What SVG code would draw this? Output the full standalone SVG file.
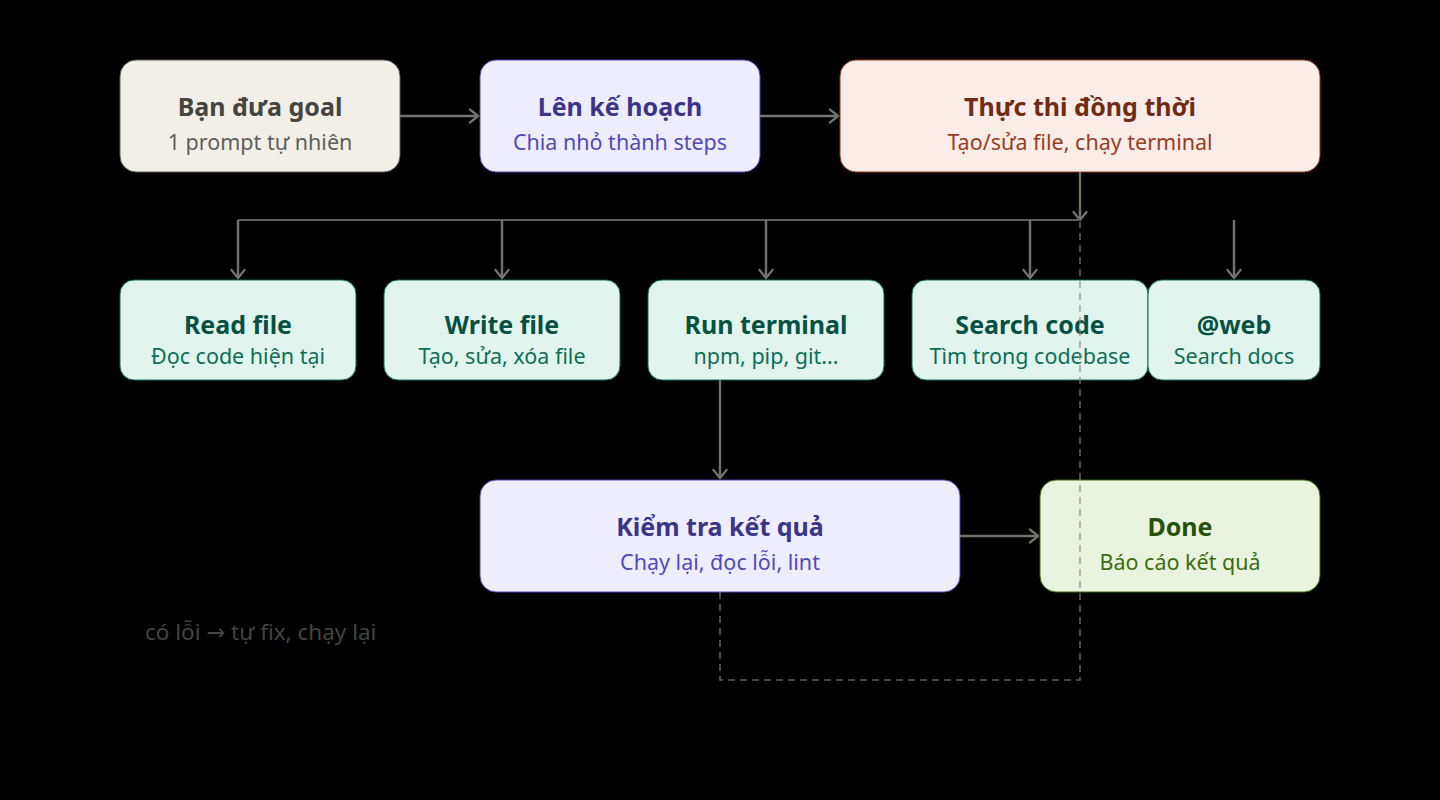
<svg xmlns="http://www.w3.org/2000/svg" width="1440" height="800" viewBox="0 0 1440 800">
<defs>
<marker id="arr" viewBox="0 0 16 16" refX="14" refY="8" markerWidth="16" markerHeight="16" markerUnits="userSpaceOnUse" orient="auto-start-reverse">
<path d="M6 1.5 L14 8 L6 14.5" fill="none" stroke="context-stroke" stroke-width="2.3" stroke-linecap="round" stroke-linejoin="round"/>
</marker>
<style>
text{font-family:"Noto Sans","Open Sans","DejaVu Sans",sans-serif;text-anchor:middle}
.t{font-weight:700;font-size:25px}
.s{font-size:21.5px}
.ln{fill:none;stroke:#73726c;stroke-width:2.4}
.bus{fill:none;stroke:#5f5e5a;stroke-width:1.8}
.dash{fill:none;stroke:#888780;stroke-opacity:0.7;stroke-width:1.6;stroke-dasharray:7 5}
.gray rect{fill:#f1efe8;stroke:#5f5e5a}
.gray .t{fill:#444441}.gray .s{fill:#5f5e5a}
.pur rect{fill:#eeedfe;stroke:#534ab7}
.pur .t{fill:#3c3489}.pur .s{fill:#534ab7}
.cor rect{fill:#faece7;stroke:#993c1d}
.cor .t{fill:#712b13}.cor .s{fill:#993c1d}
.tea rect{fill:#e1f5ee;stroke:#0f6e56}
.tea .t{fill:#085041}.tea .s{fill:#0f6e56}
.grn rect{fill:#eaf3de;stroke:#3b6d11}
.grn .t{fill:#27500a}.grn .s{fill:#3b6d11}
</style>
</defs>
<rect width="1440" height="800" fill="#000"/>

<g id="goal" class="gray"><rect x="120" y="60" width="280" height="112" rx="16"/><text class="t" x="260" y="116">Bạn đưa goal</text><text class="s" x="260" y="150">1 prompt tự nhiên</text></g>
<g id="plan" class="pur"><rect x="480" y="60" width="280" height="112" rx="16"/><text class="t" x="620" y="116">Lên kế hoạch</text><text class="s" x="620" y="150">Chia nhỏ thành steps</text></g>
<g id="exec" class="cor"><rect x="840" y="60" width="480" height="112" rx="16"/><text class="t" x="1080" y="116">Thực thi đồng thời</text><text class="s" x="1080" y="150">Tạo/sửa file, chạy terminal</text></g>

<g id="read" class="tea"><rect x="120" y="280" width="236" height="100" rx="14"/><text class="t" x="238" y="334">Read file</text><text class="s" x="238" y="364">Đọc code hiện tại</text></g>
<g id="write" class="tea"><rect x="384" y="280" width="236" height="100" rx="14"/><text class="t" x="502" y="334">Write file</text><text class="s" x="502" y="364">Tạo, sửa, xóa file</text></g>
<g id="run" class="tea"><rect x="648" y="280" width="236" height="100" rx="14"/><text class="t" x="766" y="334">Run terminal</text><text class="s" x="766" y="364">npm, pip, git...</text></g>
<g id="search" class="tea"><rect x="912" y="280" width="236" height="100" rx="14"/><text class="t" x="1030" y="334">Search code</text><text class="s" x="1030" y="364">Tìm trong codebase</text></g>
<g id="web" class="tea"><rect x="1148" y="280" width="172" height="100" rx="14"/><text class="t" x="1234" y="334">@web</text><text class="s" x="1234" y="364">Search docs</text></g>

<g id="check" class="pur"><rect x="480" y="480" width="480" height="112" rx="16"/><text class="t" x="720" y="536">Kiểm tra kết quả</text><text class="s" x="720" y="570">Chạy lại, đọc lỗi, lint</text></g>
<g id="done" class="grn"><rect x="1040" y="480" width="280" height="112" rx="16"/><text class="t" x="1180" y="536">Done</text><text class="s" x="1180" y="570">Báo cáo kết quả</text></g>

<g id="connectors">
<path class="ln" d="M400 116 H478" marker-end="url(#arr)"/>
<path class="ln" d="M760 116 H838" marker-end="url(#arr)"/>
<path class="ln" d="M1080 172 V220" marker-end="url(#arr)"/>
<path class="bus" d="M238 220 H1080"/>
<path class="ln" d="M238 220 V278" marker-end="url(#arr)"/>
<path class="ln" d="M502 220 V278" marker-end="url(#arr)"/>
<path class="ln" d="M766 220 V278" marker-end="url(#arr)"/>
<path class="ln" d="M1030 220 V278" marker-end="url(#arr)"/>
<path class="ln" d="M1234 220 V278" marker-end="url(#arr)"/>
<path class="ln" d="M720 380 V478" marker-end="url(#arr)"/>
<path class="ln" d="M960 536 H1038" marker-end="url(#arr)"/>
<path class="dash" d="M720 592 V680 H1080 V222"/>
<text x="145" y="640" style="font-size:22.5px;fill:#444441;text-anchor:start">có lỗi → tự fix, chạy lại</text>
</g>
</svg>
